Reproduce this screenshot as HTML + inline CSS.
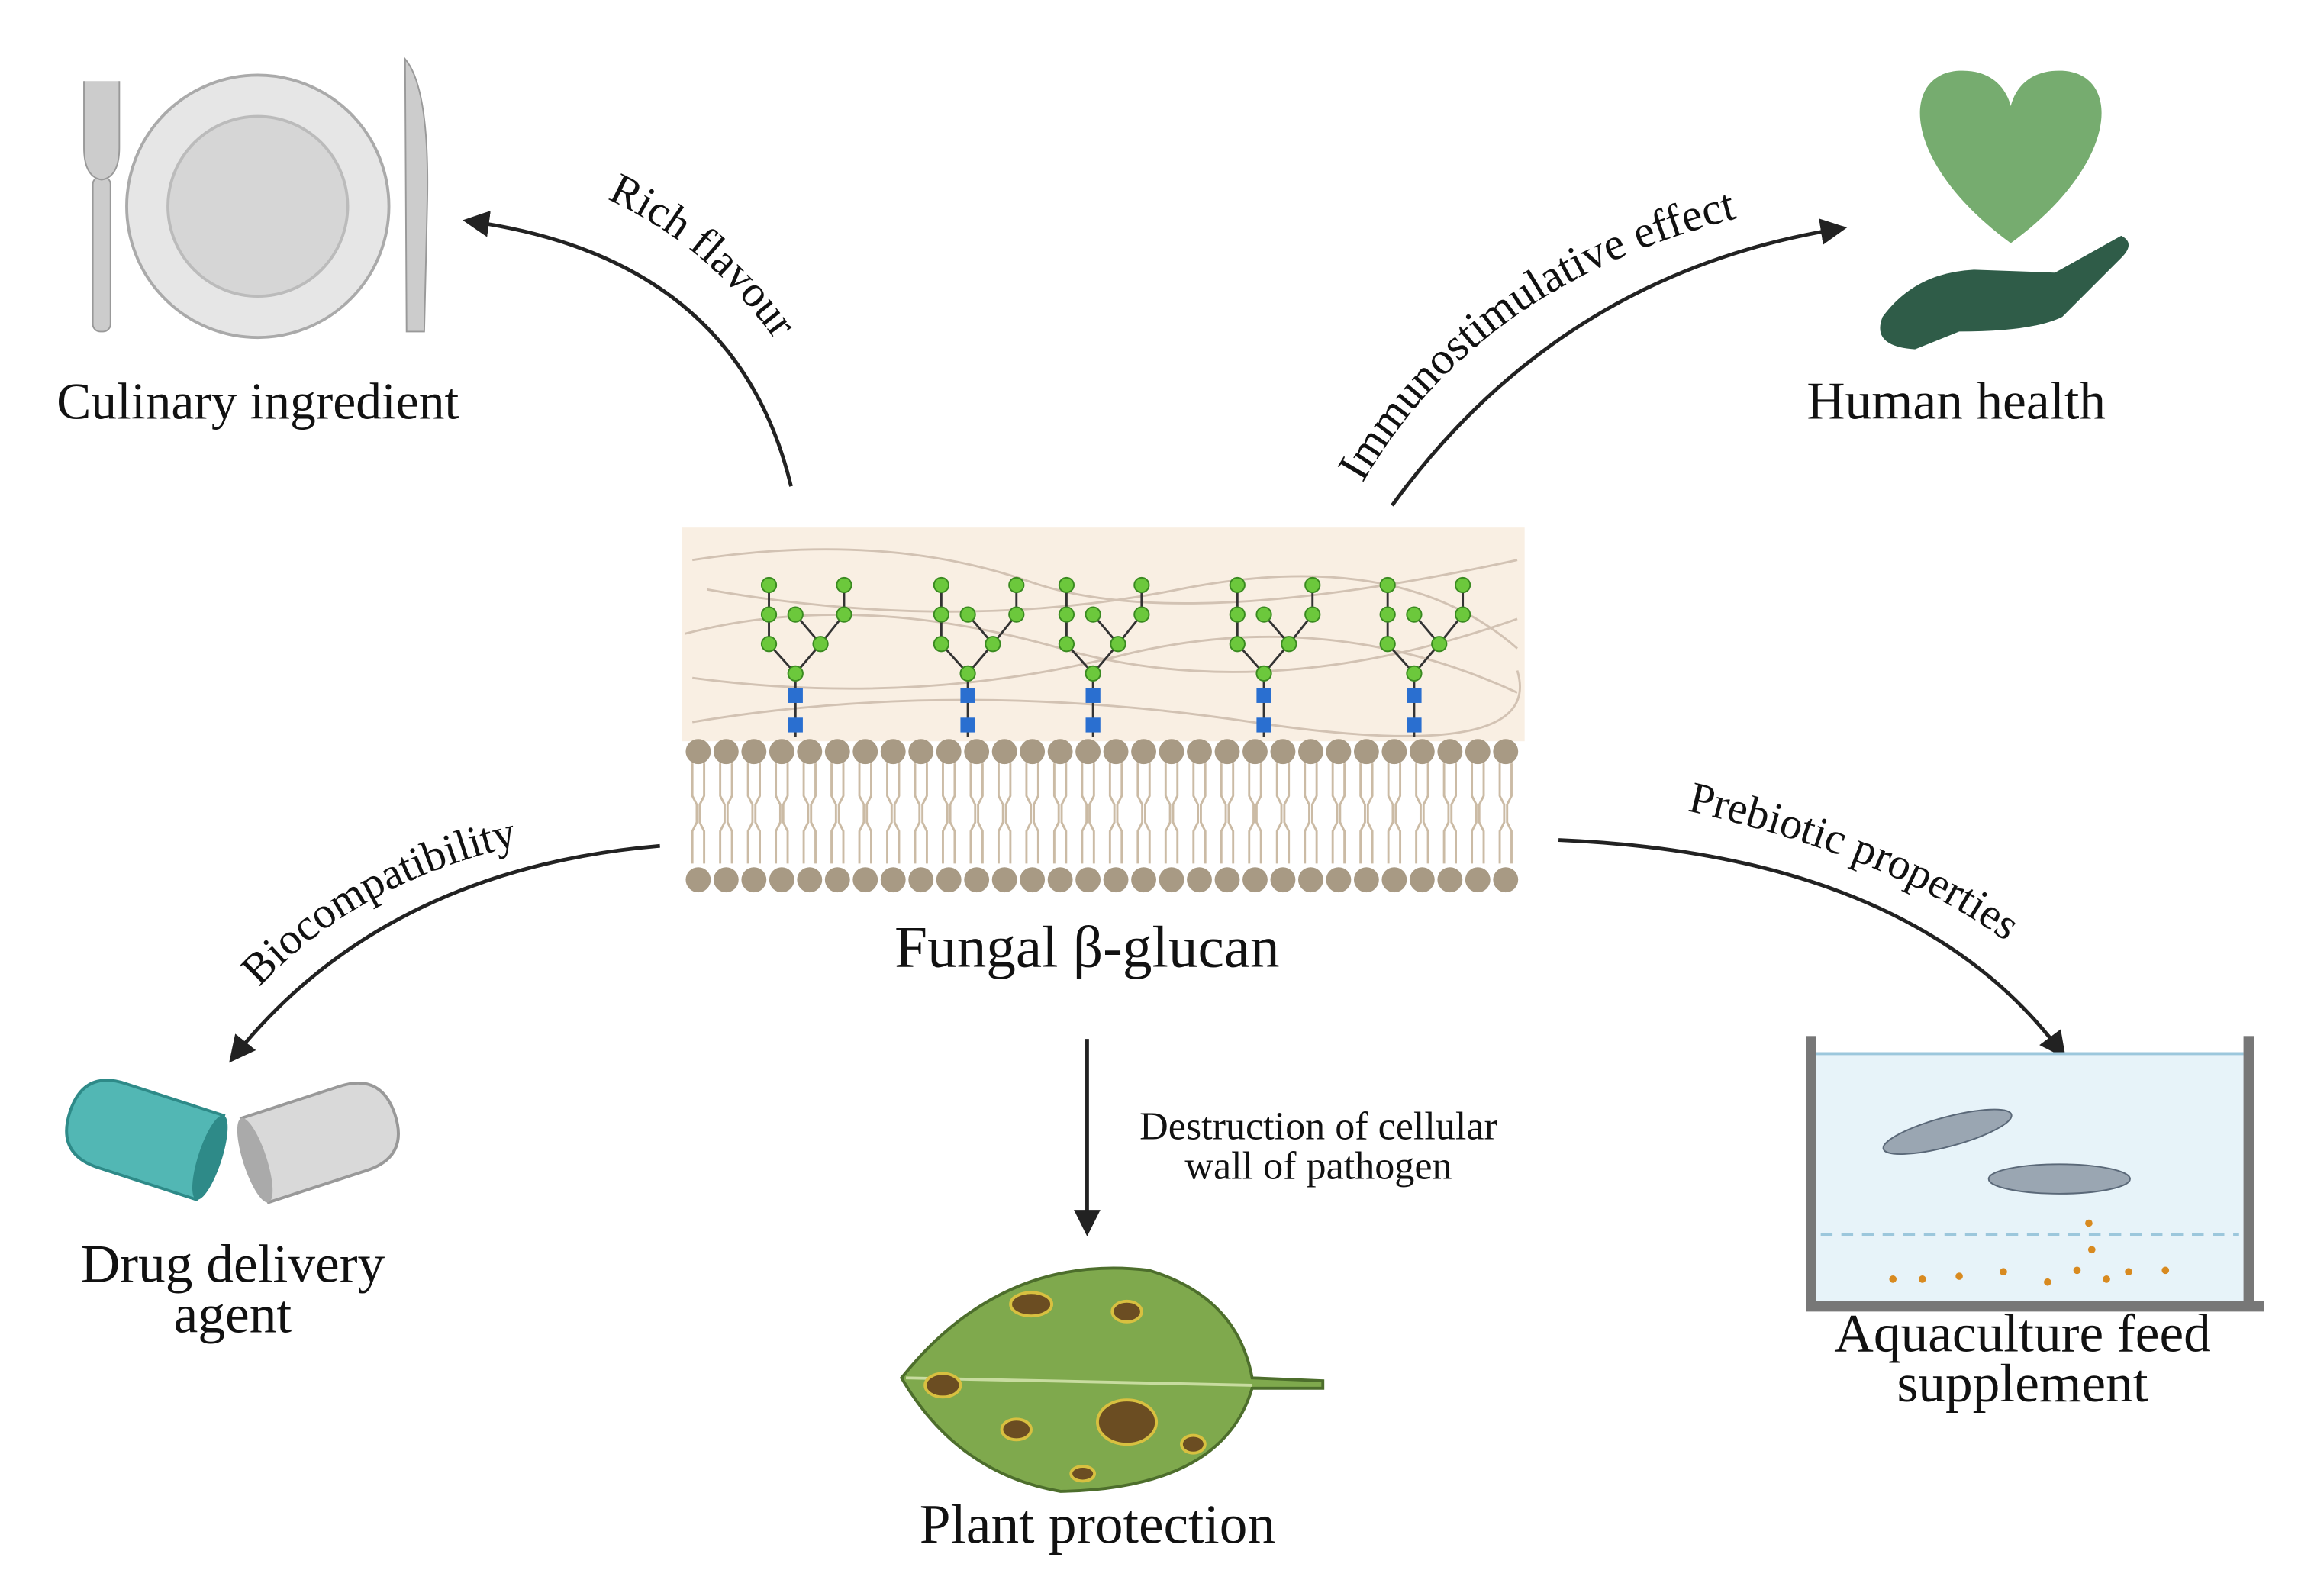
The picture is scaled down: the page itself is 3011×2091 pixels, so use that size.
<!DOCTYPE html>
<html><head><meta charset="utf-8">
<style>
html,body{margin:0;padding:0;background:#fff;}
svg{display:block;}
text{font-family:"Liberation Serif",serif;fill:#111;}
</style></head>
<body>
<svg width="3011" height="2091" viewBox="0 0 1560 1083" preserveAspectRatio="none" xmlns="http://www.w3.org/2000/svg">
<defs>
<marker id="ah2" markerWidth="18" markerHeight="18" refX="14" refY="9" orient="auto" markerUnits="userSpaceOnUse">
<path d="M0,0 L18,9 L0,18 Z" fill="#222"/></marker>
<path id="p1" d="M412,135 Q500,175 550,270"/>
<path id="p2" d="M925,328 Q1010,180 1215,140"/>
<path id="p3" d="M176,670 Q250,590 380,568"/>
<path id="p4" d="M1145,550 Q1320,590 1395,668"/>
</defs>

<!-- Culinary -->
<circle cx="175" cy="140" r="89" fill="#e6e6e6" stroke="#aaa" stroke-width="2"/>
<circle cx="175" cy="140" r="61" fill="#d6d6d6" stroke="#bbb" stroke-width="2"/>
<rect x="63" y="120" width="12" height="105" rx="5" fill="#ccc" stroke="#999"/>
<path d="M57,55 L57,100 Q57,120 69,122 Q81,120 81,100 L81,55" fill="#ccc" stroke="#999"/>
<path d="M275,40 Q292,60 290,140 L288,225 L276,225 Z" fill="#ccc" stroke="#999"/>
<text x="175" y="284" font-size="35" text-anchor="middle">Culinary ingredient</text>
<path d="M537,330 Q500,175 318,150" fill="none" stroke="#222" stroke-width="2.5" marker-end="url(#ah2)"/>
<text font-size="30"><textPath href="#p1">Rich  flavour</textPath></text>

<!-- Human health -->
<path d="M1365,165 C1290,110 1290,50 1330,48 C1352,47 1362,60 1365,72 C1368,60 1378,47 1400,48 C1440,50 1440,110 1365,165Z" fill="#76ac6f"/>
<path d="M1278,215 Q1300,185 1340,183 L1395,185 L1440,160 Q1450,165 1440,175 L1400,215 Q1380,225 1330,225 L1300,237 Q1270,235 1278,215Z" fill="#2f5c48"/>
<text x="1328" y="284" font-size="36" text-anchor="middle">Human health</text>
<path d="M945,343 Q1060,185 1250,155" fill="none" stroke="#222" stroke-width="2.5" marker-end="url(#ah2)"/>
<text font-size="31"><textPath href="#p2">Immunostimulative effect</textPath></text>

<!-- Center -->
<rect x="463" y="358" width="572" height="145" fill="#f9efe3"/>
<g stroke="#c9b8a8" stroke-width="1.5" fill="none" opacity="0.8">
<path d="M470,380 Q600,360 700,395 T1030,380"/>
<path d="M465,430 Q580,400 720,440 T1030,420"/>
<path d="M470,460 Q620,480 760,445 T1030,470"/>
<path d="M480,400 Q650,430 800,400 T1030,440"/>
<path d="M470,490 Q650,460 850,490 T1030,455"/>
</g>
<g>
<g id="gly">
<path d="M540,500 L540,457 M540,457 L522,437 L522,397 M540,457 L557,437 L540,417 M557,437 L573,417 L573,397" stroke="#333" stroke-width="1.5" fill="none"/>
<rect x="535" y="467" width="10" height="10" fill="#2a6fd0"/><rect x="535" y="487" width="10" height="10" fill="#2a6fd0"/>
<g fill="#6cc83c" stroke="#3a8a20"><circle cx="540" cy="457" r="5"/><circle cx="522" cy="437" r="5"/><circle cx="557" cy="437" r="5"/><circle cx="522" cy="417" r="5"/><circle cx="522" cy="397" r="5"/><circle cx="540" cy="417" r="5"/><circle cx="573" cy="417" r="5"/><circle cx="573" cy="397" r="5"/></g>
</g>
<use href="#gly" x="117"/><use href="#gly" x="202"/><use href="#gly" x="318"/><use href="#gly" x="420"/>
</g>
<script>
(function(){var s=document.querySelector('svg'),ns='http://www.w3.org/2000/svg';
for(var i=0;i<30;i++){var x=474+i*18.9;
var p=document.createElementNS(ns,'path');p.setAttribute('d','M'+(x-4)+',518 v22 l3,6 v12 l-3,6 v22 M'+(x+4)+',518 v22 l-3,6 v12 l3,6 v22');p.setAttribute('stroke','#cbbba5');p.setAttribute('stroke-width','1.5');p.setAttribute('fill','none');s.appendChild(p);
[510,597].forEach(function(y){var c=document.createElementNS(ns,'circle');c.setAttribute('cx',x);c.setAttribute('cy',y);c.setAttribute('r','8.5');c.setAttribute('fill','#a89a84');s.appendChild(c);});}
})();
</script>
<text x="738" y="656" font-size="40" text-anchor="middle">Fungal β-glucan</text>

<!-- Drug delivery -->
<path d="M448,574 Q260,590 158,718" fill="none" stroke="#222" stroke-width="2.5" marker-end="url(#ah2)"/>
<text font-size="30"><textPath href="#p3">Biocompatibility</textPath></text>
<g transform="rotate(18 95 770)">
<path d="M145,740 L75,740 Q45,740 45,770 Q45,800 75,800 L145,800 Z" fill="#52b7b4" stroke="#2e8a88" stroke-width="2"/>
<ellipse cx="145" cy="770" rx="8" ry="30" fill="#2e8a88"/>
</g>
<g transform="rotate(-18 220 770)">
<path d="M170,742 L240,742 Q270,742 270,772 Q270,802 240,802 L170,802 Z" fill="#d9d9d9" stroke="#999" stroke-width="2"/>
<ellipse cx="170" cy="772" rx="8" ry="30" fill="#aaa"/>
</g>
<text x="158" y="870" font-size="37" text-anchor="middle">Drug delivery</text>
<text x="158" y="904" font-size="37" text-anchor="middle">agent</text>

<!-- Plant -->
<line x1="738" y1="705" x2="738" y2="835" stroke="#222" stroke-width="2.5" marker-end="url(#ah2)"/>
<text x="895" y="773" font-size="27" text-anchor="middle">Destruction of cellular</text>
<text x="895" y="800" font-size="27" text-anchor="middle">wall of pathogen</text>
<path d="M612,935 Q680,850 780,862 Q840,880 850,935 L898,937 L898,942 L850,942 Q830,1010 720,1012 Q650,1000 612,935Z" fill="#7fa94d" stroke="#4d6e2c" stroke-width="2"/>
<path d="M615,935 L850,940" stroke="#c8dca0" stroke-width="2"/>
<g fill="#6b4d22" stroke="#d8c040" stroke-width="2">
<ellipse cx="765" cy="965" rx="20" ry="15"/><ellipse cx="700" cy="885" rx="14" ry="8"/><ellipse cx="765" cy="890" rx="10" ry="7"/>
<ellipse cx="640" cy="940" rx="12" ry="8"/><ellipse cx="690" cy="970" rx="10" ry="7"/><ellipse cx="810" cy="980" rx="8" ry="6"/><ellipse cx="735" cy="1000" rx="8" ry="5"/></g>
<text x="745" y="1047" font-size="38" text-anchor="middle">Plant protection</text>

<!-- Aquaculture -->
<path d="M1058,570 Q1300,580 1400,715" fill="none" stroke="#222" stroke-width="2.5" marker-end="url(#ah2)"/>
<text font-size="30"><textPath href="#p4">Prebiotic properties</textPath></text>
<rect x="1233" y="715" width="290" height="170" fill="#e7f3f9"/>
<line x1="1233" y1="715" x2="1523" y2="715" stroke="#9cc7dc" stroke-width="2"/>
<line x1="1236" y1="838" x2="1520" y2="838" stroke="#9cc7dc" stroke-width="2" stroke-dasharray="8,6"/>
<rect x="1226" y="703" width="7" height="185" fill="#777"/><rect x="1523" y="703" width="7" height="185" fill="#777"/>
<rect x="1226" y="883" width="311" height="7" fill="#777"/>
<ellipse cx="1322" cy="768" rx="45" ry="10" transform="rotate(-15 1322 768)" fill="#9aa6b2" stroke="#5a6878"/>
<ellipse cx="1398" cy="800" rx="48" ry="10" fill="#9aa6b2" stroke="#5a6878"/>
<g fill="#d88a20"><circle cx="1285" cy="868" r="2.5"/><circle cx="1305" cy="868" r="2.5"/><circle cx="1330" cy="866" r="2.5"/><circle cx="1360" cy="863" r="2.5"/><circle cx="1390" cy="870" r="2.5"/><circle cx="1410" cy="862" r="2.5"/><circle cx="1420" cy="848" r="2.5"/><circle cx="1430" cy="868" r="2.5"/><circle cx="1445" cy="863" r="2.5"/><circle cx="1418" cy="830" r="2.5"/><circle cx="1470" cy="862" r="2.5"/></g>
<text x="1373" y="917" font-size="37" text-anchor="middle">Aquaculture feed</text>
<text x="1373" y="951" font-size="37" text-anchor="middle">supplement</text>
</svg>
</body></html>
